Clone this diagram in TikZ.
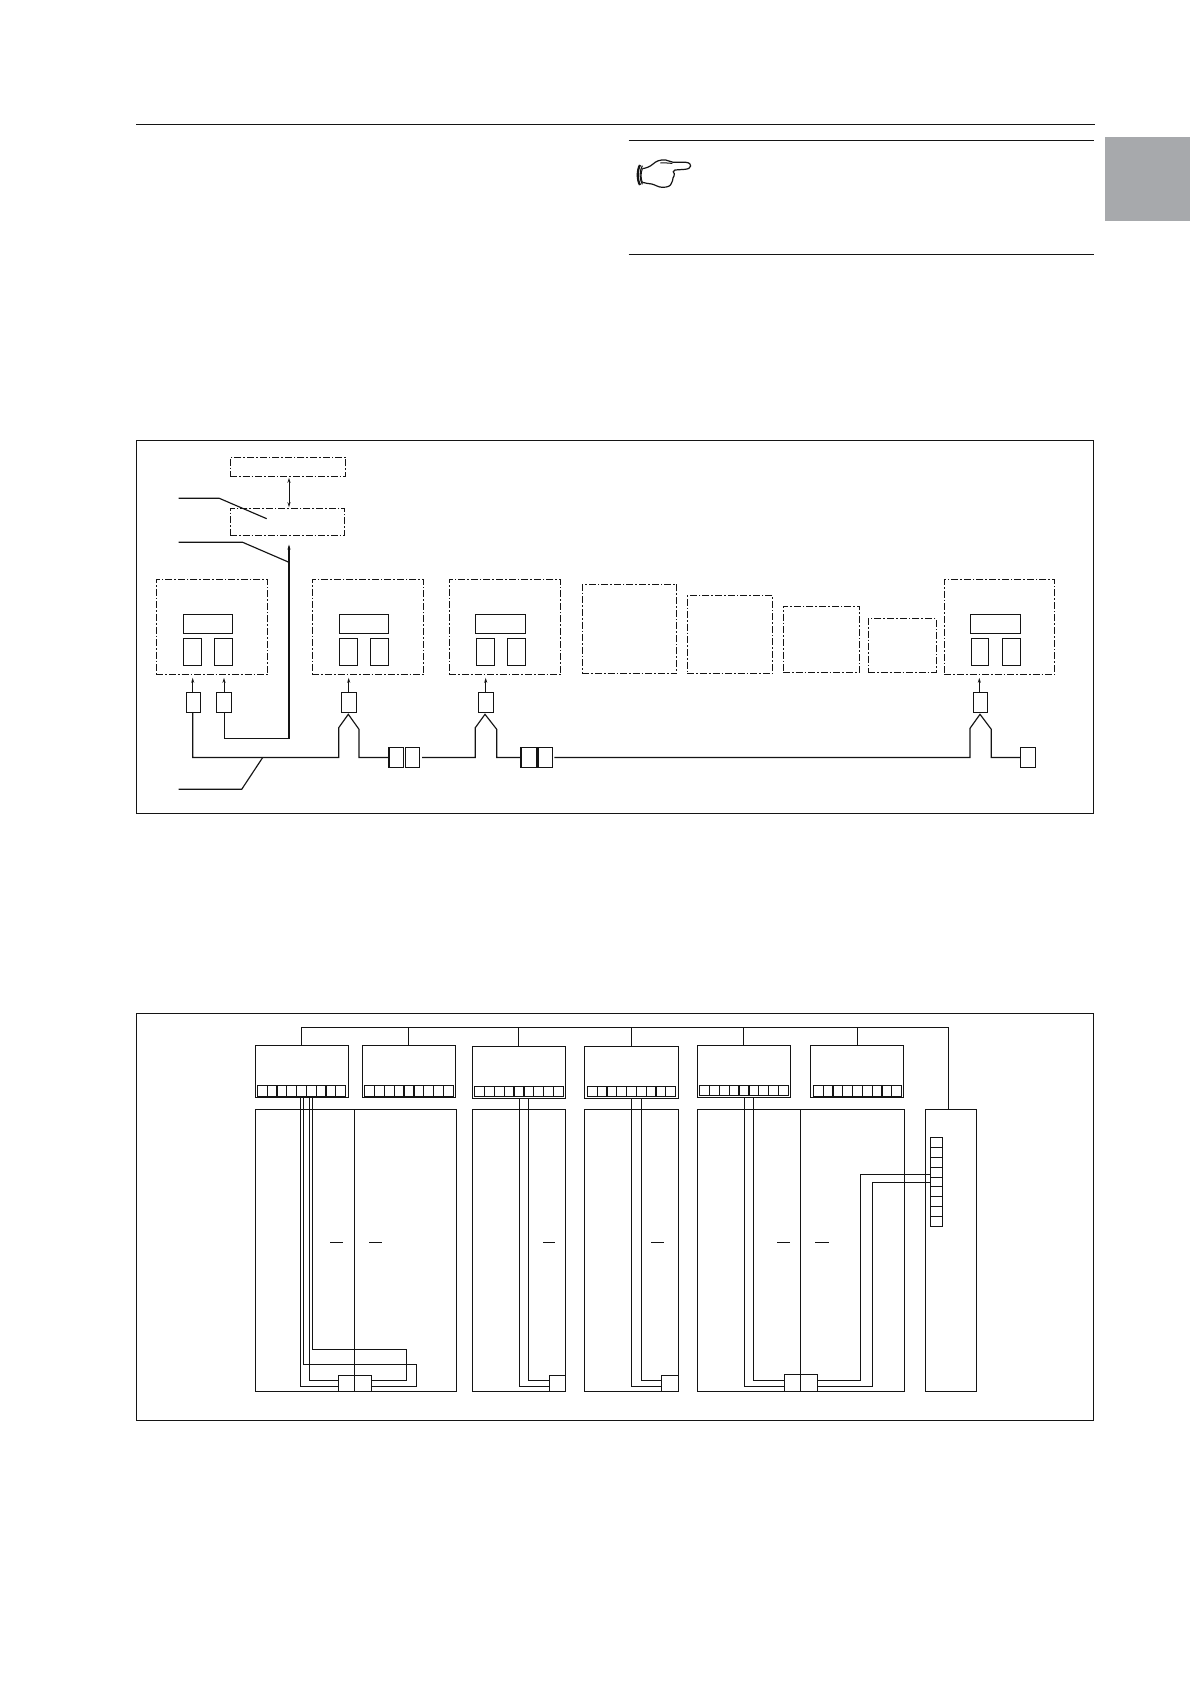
\documentclass[tikz,border=0pt]{standalone}
\usetikzlibrary{arrows.meta}
\definecolor{ink}{HTML}{141414}
\definecolor{tabgrey}{HTML}{A7A9AC}
\tikzset{
  solidbox/.style={draw=ink,line width=1.15pt,inner sep=0pt,outer sep=0pt,anchor=north west},
  framebox/.style={solidbox,line width=1.15pt},
  dashbox/.style={solidbox,line width=1pt,dash pattern=on 7pt off 2pt on 1.6pt off 2pt},
  wire/.style={draw=ink,line width=1.15pt},
  rule/.style={draw=ink,line width=1.2pt},
  tick/.style={draw=ink,line width=1pt,-{Stealth[length=5pt,width=3pt]}},
  tickboth/.style={draw=ink,line width=1pt,{Stealth[length=5pt,width=3pt]}-{Stealth[length=5pt,width=3pt]}},
}
% name, x1, y1, x2, y2 with style in the optional argument
\newcommand{\bx}[6][solidbox]{%
  \node[#1,minimum width={(#4-#2)*1pt},minimum height={(#5-#3)*1pt}] (#6) at (#2,#3) {};}
% horizontal strip of nine cells
\newcommand{\hstrip}[5]{%
  \foreach \i in {0,...,8}{%
    \pgfmathsetmacro{\ca}{#2+\i*(#4-#2)/9}%
    \pgfmathsetmacro{\cb}{#2+(\i+1)*(#4-#2)/9}%
    \bx{\ca}{#3}{\cb}{#5}{#1c\i}}}
% one input group: dashed frame with three inner boxes
\newcommand{\unit}[9]{%
  \bx[dashbox]{#2}{579.3}{#3}{674.7}{#1}
  \bx{#4}{614.3}{#5}{633.7}{#1w}
  \bx{#6}{638.3}{#7}{665.7}{#1l}
  \bx{#8}{638.3}{#9}{665.7}{#1r}}
\begin{document}
\begin{tikzpicture}[x=1pt,y=-1pt]
\useasboundingbox (0,0) rectangle (1190,1684);
\fill[white] (0,0) rectangle (1190,1684);

% page furniture
\coordinate (hdrL) at (136.3,124.4);
\coordinate (hdrR) at (1094.6,124.4);
\draw[rule] (hdrL) -- (hdrR);
\coordinate (noteAL) at (628.5,140.2);
\coordinate (noteAR) at (1093.6,140.2);
\coordinate (noteBL) at (628.5,254.4);
\coordinate (noteBR) at (1093.6,254.4);
\draw[rule] (noteAL) -- (noteAR);
\draw[rule] (noteBL) -- (noteBR);
\fill[tabgrey] (1105,136.5) rectangle (1190,221);

% pointing hand
\begin{scope}[shift={(625,150)},x=0.3333pt,y=-0.3333pt]
  \draw[ink,line width=1.2pt,line join=round]
    (52,56) .. controls (65,54) and (75,50) .. (84,42)
    .. controls (93,34) and (105,28) .. (122,30)
    .. controls (130,31) and (136,36) .. (145,37)
    -- (183,37) .. controls (193,38) and (198,43) .. (197,48)
    .. controls (196,54) and (190,57) .. (180,58)
    -- (150,60) .. controls (144,62) and (142,68) .. (148,71)
    .. controls (145,76) and (150,79) .. (144,84)
    .. controls (148,90) and (138,94) .. (139,100)
    .. controls (137,108) and (128,112) .. (112,112)
    .. controls (100,112) and (90,104) .. (80,102)
    .. controls (70,100) and (60,100) .. (52,97);
  \draw[ink,line width=1pt] (106,39) .. controls (118,37) and (128,40) .. (142,40);
  \draw[ink,line width=1pt] (52,56) .. controls (47,70) and (47,85) .. (52,97);
  \draw[ink,line width=2.2pt] (45,45) .. controls (36,60) and (36,90) .. (45,105);
  \draw[ink,line width=1.1pt] (52,47) .. controls (43,62) and (43,88) .. (52,103);
\end{scope}

%%%%%%%%%%%%%% upper figure
\bx[framebox]{136.3}{440.3}{1093.3}{813.3}{figA}
\bx[dashbox]{230}{457.3}{345.7}{476.7}{top}
\bx[dashbox]{230}{508.3}{344.7}{535.7}{mid}
\coordinate (topS) at (289,477.8);
\coordinate (midN) at (289,507.2);
\draw[tickboth] (topS) -- (midN);
\coordinate (midS) at (289,544.5);

\unit{ua}{156.3}{267.7}{183.3}{232.7}{183.3}{201.7}{214.3}{232.7}
\unit{ub}{312.3}{423.7}{339.3}{388.7}{339.3}{357.7}{370.3}{388.7}
\unit{uc}{449.3}{560.7}{475.7}{525.7}{476.3}{494.7}{507.3}{525.7}
\unit{uh}{944.3}{1054.7}{970.3}{1020.7}{971.3}{988.7}{1002.3}{1020.7}
\bx[dashbox]{582.3}{584.3}{676.7}{673.3}{ud}
\bx[dashbox]{687.3}{595.3}{772.7}{673.3}{ue}
\bx[dashbox]{783}{606.3}{859.7}{672.3}{uf}
\bx[dashbox]{868.3}{618.3}{936}{672.3}{ug}

% sensors
\bx{186.3}{692.3}{200.7}{712.7}{s1}
\bx{216.3}{692.3}{231.7}{712.7}{s2}
\bx{341.7}{692.3}{356.7}{712.7}{s3}
\bx{478.7}{692.3}{493.7}{712.7}{s4}
\bx{973.3}{692.3}{987.7}{712.7}{s5}
% plug pairs
\bx{389}{747.3}{403.7}{767.7}{p1}
\bx{405.3}{747.3}{419.7}{767.7}{p2}
\bx{521}{747.3}{537}{767.7}{p3}
\bx{538.3}{747.3}{552.7}{767.7}{p4}
\bx{1020.3}{747.3}{1035.7}{767.7}{p5}

% small arrows
\foreach \s/\x/\t in {s1/192.7/a,s2/224/b,s3/348.7/c,s4/485.7/d,s5/979.3/e}{
  \coordinate (tip\t) at (\x,677.8);
  \coordinate (tail\t) at (\x,692.3);
  \draw[tick] (tail\t) -- (tip\t);
}

% cable to the control unit
\coordinate (s2b) at (224.3,712.7);
\coordinate (cabCorner) at (289,738.3);
\draw[tick,line width=1.15pt] (s2b) |- (cabCorner) -- (midS);

% main bus
\coordinate (s1b) at (192.7,712.7);
\coordinate (bus1) at (338.7,757.5);
\coordinate (apex1) at (348.3,714.3);
\coordinate (bus2) at (359,757.5);
\coordinate (bus3) at (475.3,757.5);
\coordinate (apex2) at (485,714.3);
\coordinate (bus4) at (496.7,757.5);
\coordinate (bus5) at (970,757.5);
\coordinate (apex3) at (980,714.3);
\coordinate (bus6) at (991.3,757.5);
\draw[wire] (s1b) |- (bus1) -- (338.7,727.7) -- (apex1) -- (359,729.3) -- (bus2) -- (p1.west);
\draw[wire] (422,757.5) -- (bus3) -- (475.3,727.7) -- (apex2) -- (496.7,729.3) -- (bus4) -- (p3.west);
\draw[wire] (p4.east -| 554.3,0) -- (bus5) -- (970,728.3) -- (apex3) -- (991.3,729.3) -- (bus6) -- (p5.west);

% leader lines
\coordinate (lead1a) at (178.7,498.3);
\coordinate (lead1b) at (219.3,498.3);
\coordinate (lead1c) at (266.7,518.7);
\draw[wire] (lead1a) -- (lead1b) -- (lead1c);
\coordinate (lead2a) at (178.7,542.3);
\coordinate (lead2b) at (242.7,542.3);
\coordinate (lead2c) at (289,562.3);
\draw[wire] (lead2a) -- (lead2b) -- (lead2c);
\coordinate (lead3a) at (178.7,789.3);
\coordinate (lead3b) at (241.7,789.3);
\coordinate (lead3c) at (262.7,757.5);
\draw[wire] (lead3a) -- (lead3b) -- (lead3c);

%%%%%%%%%%%%%% lower figure
\bx[framebox]{136.3}{1013.5}{1093.3}{1420.3}{figB}

% bus
\coordinate (busA) at (301.3,1027.3);
\coordinate (busZ) at (948.3,1027.3);
\bx{925.3}{1109.3}{976.7}{1391.3}{rack}
\draw[wire] (301.3,1045.3) |- (busZ) -- (948.3,1109.3);
\foreach \x/\y in {408.3/1045.3,518.7/1046.3,631.3/1046.3,743.7/1045.3,857.3/1045.3}{
  \draw[wire] (\x,1027.3) -- (\x,\y);
}

% modules
\bx{255.3}{1045.3}{348.7}{1097.7}{m1}
\bx{362.3}{1045.3}{455.7}{1097.7}{m2}
\bx{472.3}{1046.3}{565.7}{1098.7}{m3}
\bx{584.3}{1046.3}{678.7}{1098.7}{m4}
\bx{697.3}{1045.3}{790.7}{1097.7}{m5}
\bx{810.3}{1045.3}{903.7}{1097.7}{m6}
\hstrip{t1}{257.3}{1085.3}{345.7}{1096.7}
\hstrip{t2}{364.3}{1085.3}{453.7}{1096.7}
\hstrip{t3}{474.3}{1086.3}{563.7}{1096.7}
\hstrip{t4}{587.3}{1086.3}{675.7}{1096.7}
\hstrip{t5}{699.3}{1085.3}{788.7}{1095.7}
\hstrip{t6}{813.3}{1085.3}{901.7}{1096.7}

% lower panels
\bx{255.3}{1109.3}{456.7}{1391.3}{pa}
\coordinate (paDivT) at (354.3,1109.3);
\coordinate (paDivB) at (354.3,1391.3);
\draw[wire] (paDivT) -- (paDivB);
\bx{472.3}{1109.3}{565.7}{1391.3}{pb}
\bx{584.3}{1109.3}{678.7}{1391.3}{pc}
\bx{697.3}{1109.3}{904.7}{1391.3}{pd}
\coordinate (pdDivT) at (800.3,1109.3);
\coordinate (pdDivB) at (800.3,1391.3);
\draw[wire] (pdDivT) -- (pdDivB);

% connector blocks
\bx{338.7}{1375.3}{371.7}{1391.3}{ja}
\bx{549.3}{1375.3}{565.7}{1391.3}{jb}
\bx{661.6}{1375.3}{678.7}{1391.3}{jc}
\bx{784.3}{1374.3}{817.7}{1391.3}{jd}

% vertical terminal strip
\foreach \i/\a/\b in {0/1137.3/1147.3,1/1147.3/1157.3,2/1157.3/1167.3,3/1167.3/1177.3,4/1177.3/1186.3,5/1186.3/1196.3,6/1196.3/1206.3,7/1206.3/1216.3,8/1216.3/1226.3}{
  \bx{930.3}{\a}{942.7}{\b}{v\i}
}

% wiring, panel a
\coordinate (a1) at (300.7,1097.7);
\coordinate (a2) at (303.3,1097.7);
\coordinate (a3) at (309.3,1097.7);
\coordinate (a4) at (312.3,1097.7);
\coordinate (ja1) at (338.7,1386.3);
\coordinate (ja2) at (338.7,1380.3);
\coordinate (ja3) at (371.7,1386.3);
\coordinate (ja4) at (371.7,1380.3);
\draw[wire] (a1) |- (ja1);
\draw[wire] (a3) |- (ja2);
\draw[wire] (a2) |- (416.3,1364.3) |- (ja3);
\draw[wire] (a4) |- (406.3,1349.3) |- (ja4);

% wiring, panels b and c
\coordinate (b1) at (519.3,1098.7);
\coordinate (b2) at (528.5,1098.7);
\coordinate (jb1) at (549.3,1386.3);
\coordinate (jb2) at (549.3,1380.3);
\draw[wire] (b1) |- (jb1);
\draw[wire] (b2) |- (jb2);
\coordinate (c1) at (631.7,1098.7);
\coordinate (c2) at (641.7,1098.7);
\coordinate (jc1) at (661.6,1386.3);
\coordinate (jc2) at (661.6,1380.3);
\draw[wire] (c1) |- (jc1);
\draw[wire] (c2) |- (jc2);

% wiring, panel d
\coordinate (d1) at (744.3,1097.7);
\coordinate (d2) at (753.3,1097.7);
\coordinate (jd1) at (784.3,1386.3);
\coordinate (jd2) at (784.3,1380.3);
\coordinate (jd3) at (817.7,1386.3);
\coordinate (jd4) at (817.7,1380.3);
\coordinate (vA) at (930.3,1174.3);
\coordinate (vB) at (930.3,1182.3);
\draw[wire] (d1) |- (jd1);
\draw[wire] (d2) |- (jd2);
\draw[wire] (jd4) -| (860.3,1174.3) -- (vA);
\draw[wire] (jd3) -| (872.3,1182.3) -- (vB);

% short marks
\foreach \n/\a/\b in {q1/330/343.3,q2/369/382,q3/543/555,q4/651/664,q5/777/790,q6/815/829}{
  \coordinate (\n a) at (\a,1242.2);
  \coordinate (\n b) at (\b,1242.2);
  \draw[wire] (\n a) -- (\n b);
}
\end{tikzpicture}
\end{document}
